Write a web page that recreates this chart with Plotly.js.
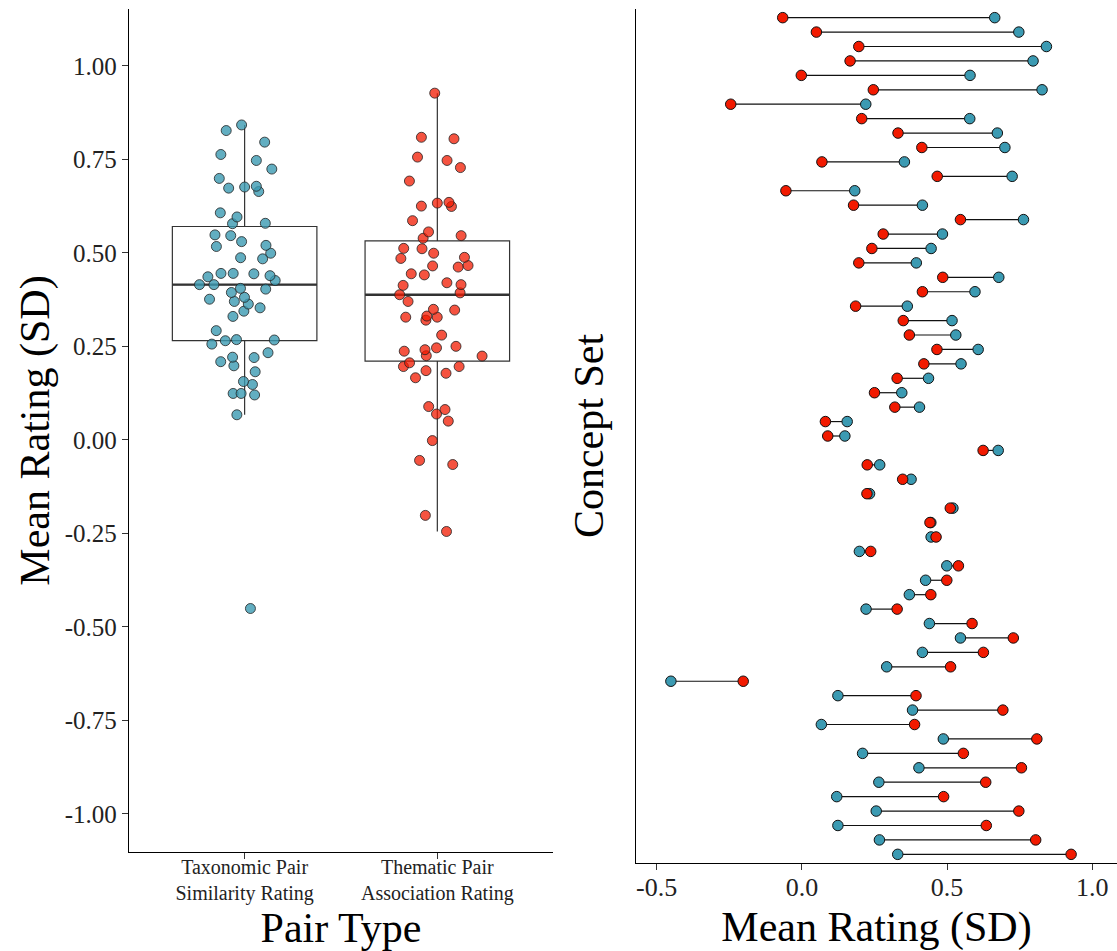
<!DOCTYPE html>
<html>
<head>
<meta charset="utf-8">
<script src="https://cdn.plot.ly/plotly-3.0.1.min.js"></script>
<style>html,body{margin:0;padding:0;background:#fff;}#chart{width:1117px;height:951px;}</style>
</head>
<body>
<div id="chart"></div>
<script>
// ---- data ----
var pairTypes = ["Taxonomic Pair<br>Similarity Rating", "Thematic Pair<br>Association Rating"];

// Mean rating (SD) per concept set, top row first
var taxonomicSimilarity = [
  0.664, 0.747, 0.842, 0.796, 0.579, 0.827, 0.220, 0.578, 0.673, 0.699,
  0.353, 0.724, 0.182, 0.415, 0.763, 0.484, 0.445, 0.394, 0.678, 0.596,
  0.363, 0.517, 0.530, 0.607, 0.548, 0.436, 0.344, 0.405, 0.156, 0.148,
  0.676, 0.268, 0.376, 0.233, 0.520, 0.444, 0.445, 0.198, 0.499, 0.426,
  0.370, 0.221, 0.439, 0.546, 0.415, 0.292, -0.451, 0.124, 0.381, 0.067,
  0.487, 0.209, 0.403, 0.265, 0.120, 0.256, 0.124, 0.267, 0.330
];
var thematicAssociation = [
  -0.066, 0.050, 0.196, 0.166, -0.002, 0.246, -0.245, 0.206, 0.331, 0.413,
  0.069, 0.466, -0.055, 0.178, 0.546, 0.280, 0.241, 0.196, 0.485, 0.415,
  0.185, 0.349, 0.370, 0.465, 0.420, 0.328, 0.250, 0.320, 0.081, 0.089,
  0.624, 0.225, 0.347, 0.224, 0.511, 0.441, 0.462, 0.237, 0.539, 0.499,
  0.444, 0.328, 0.586, 0.728, 0.625, 0.512, -0.202, 0.393, 0.692, 0.388,
  0.809, 0.556, 0.756, 0.633, 0.488, 0.747, 0.635, 0.805, 0.927
];
var conceptSets = [];
for (var i = 0; i < taxonomicSimilarity.length; i++) conceptSets.push("Set " + (i + 1));

var leftTickVals = [-1.00, -0.75, -0.50, -0.25, 0.00, 0.25, 0.50, 0.75, 1.00];
var leftTickText = ["-1.00", "-0.75", "-0.50", "-0.25", "0.00", "0.25", "0.50", "0.75", "1.00"];
var rightTickVals = [-0.5, 0.0, 0.5, 1.0];
var rightTickText = ["-0.5", "0.0", "0.5", "1.0"];

// ---- styles ----
var BLUE = "#3B9AB2", RED = "#F21A00";
var FONT = "Liberation Serif, Times New Roman, serif";
var BOX_HALF = 0.375;

// median (type-7 quantile, same as the box statistics)
function median(arr) {
  var s = arr.slice().sort(function (a, b) { return a - b; });
  var n = s.length, h = (n - 1) / 2, lo = Math.floor(h);
  return s[lo] + (h - lo) * ((s[lo + 1] !== undefined ? s[lo + 1] : s[lo]) - s[lo]);
}

// segments for dumbbells
var segX = [], segY = [];
for (var j = 0; j < conceptSets.length; j++) {
  segX.push(thematicAssociation[j], taxonomicSimilarity[j], null);
  segY.push(conceptSets[j], conceptSets[j], null);
}

function repeat(v, n) { var a = []; for (var k = 0; k < n; k++) a.push(v); return a; }

var traces = [
  {
    type: "box", name: pairTypes[0],
    x: repeat(pairTypes[0], taxonomicSimilarity.length), y: taxonomicSimilarity,
    xaxis: "x", yaxis: "y",
    boxpoints: "all", jitter: 0.75, pointpos: 0, width: 2 * BOX_HALF, whiskerwidth: 0,
    fillcolor: "rgba(255,255,255,0)",
    line: { color: "#333333", width: 1.2 },
    marker: { color: "rgba(59,154,178,0.8)", size: 10, line: { color: "#222", width: 0.8 } },
    showlegend: false, hoverinfo: "y"
  },
  {
    type: "box", name: pairTypes[1],
    x: repeat(pairTypes[1], thematicAssociation.length), y: thematicAssociation,
    xaxis: "x", yaxis: "y",
    boxpoints: "all", jitter: 0.7, pointpos: 0, width: 2 * BOX_HALF, whiskerwidth: 0,
    fillcolor: "rgba(255,255,255,0)",
    line: { color: "#333333", width: 1.2 },
    marker: { color: "rgba(242,26,0,0.75)", size: 10, line: { color: "#222", width: 0.8 } },
    showlegend: false, hoverinfo: "y"
  },
  {
    type: "scatter", mode: "lines", x: segX, y: segY, xaxis: "x2", yaxis: "y2",
    line: { color: "#111", width: 1.2 }, showlegend: false, hoverinfo: "skip", connectgaps: false
  },
  {
    type: "scatter", mode: "markers", x: taxonomicSimilarity, y: conceptSets, xaxis: "x2", yaxis: "y2",
    marker: { color: BLUE, size: 10.5, line: { color: "#111", width: 1 } }, showlegend: false
  },
  {
    type: "scatter", mode: "markers", x: thematicAssociation, y: conceptSets, xaxis: "x2", yaxis: "y2",
    marker: { color: RED, size: 10.5, line: { color: "#111", width: 1 } }, showlegend: false
  }
];

// thicker median lines (ggplot style), computed from the data
var medianShapes = [taxonomicSimilarity, thematicAssociation].map(function (vals, idx) {
  var m = median(vals);
  return {
    type: "line", xref: "x", yref: "y", layer: "below",
    x0: idx - BOX_HALF, x1: idx + BOX_HALF, y0: m, y1: m,
    line: { color: "#333333", width: 2.4 }
  };
});

var layout = {
  width: 1117, height: 951,
  margin: { l: 129, r: 0, t: 9, b: 88 },
  paper_bgcolor: "#fff", plot_bgcolor: "#fff",
  font: { family: FONT, color: "#000" },
  showlegend: false,
  boxmode: "overlay",
  shapes: medianShapes,
  xaxis: {
    domain: [0, 0.4291], type: "category", range: [-0.6, 1.6],
    showline: true, linecolor: "#000", linewidth: 1.2, showgrid: false, zeroline: false,
    ticks: "outside", ticklen: 6, tickcolor: "#333", tickwidth: 1,
    ticklabelstandoff: -9,
    tickfont: { family: FONT, size: 20, color: "#222" },
    title: { text: "Pair Type", font: { family: FONT, size: 42 }, standoff: 20 },
    automargin: false, fixedrange: true
  },
  yaxis: {
    domain: [0.0129, 1], range: [-1.102, 1.152],
    tickvals: leftTickVals, ticktext: leftTickText,
    showline: true, linecolor: "#000", linewidth: 1.2, showgrid: false, zeroline: false,
    ticks: "outside", ticklen: 6, tickcolor: "#333", tickwidth: 1,
    tickfont: { family: FONT, size: 25, color: "#222" },
    title: { text: "Mean Rating (SD)", font: { family: FONT, size: 42 }, standoff: 2 },
    automargin: false, fixedrange: true
  },
  xaxis2: {
    domain: [0.5132, 1], anchor: "y2", range: [-0.571, 1.085],
    tickvals: rightTickVals, ticktext: rightTickText,
    showline: true, linecolor: "#000", linewidth: 1.2, showgrid: false, zeroline: false,
    ticks: "outside", ticklen: 6, tickcolor: "#333", tickwidth: 1,
    ticklabelstandoff: -5,
    tickfont: { family: FONT, size: 26, color: "#222" },
    title: { text: "Mean Rating (SD)", font: { family: FONT, size: 42 }, standoff: 16 },
    automargin: false, fixedrange: true
  },
  yaxis2: {
    domain: [0, 1], anchor: "x2", type: "category",
    categoryorder: "array", categoryarray: conceptSets,
    range: [conceptSets.length - 1 + 0.6, -0.6],
    showline: true, linecolor: "#000", linewidth: 1.2, showgrid: false, zeroline: false,
    showticklabels: false, ticks: "",
    title: { text: "Concept Set", font: { family: FONT, size: 42 }, standoff: 18 },
    automargin: false, fixedrange: true
  }
};

Plotly.newPlot("chart", traces, layout, { displayModeBar: false, staticPlot: true });
</script>
</body>
</html>
